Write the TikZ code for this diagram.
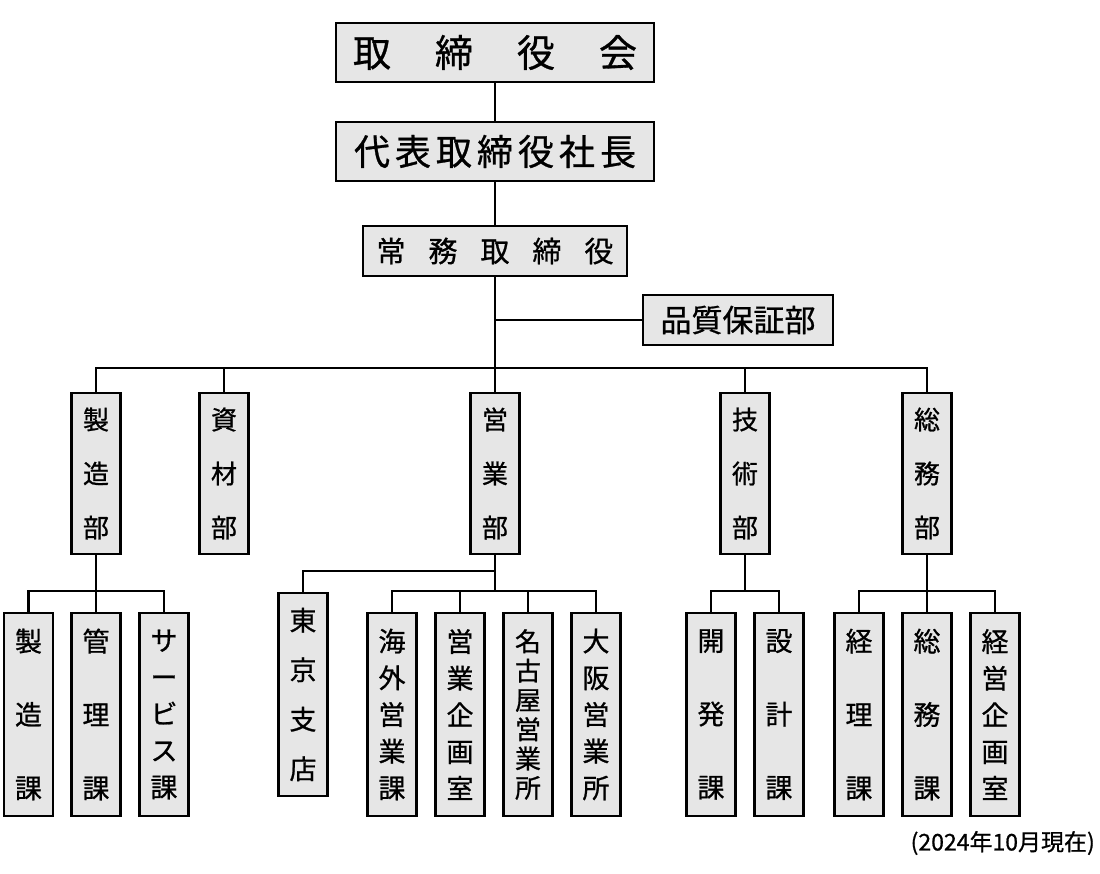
\documentclass[tikz,border=0pt]{standalone}
\usepackage{fontspec}
\setmainfont{Noto Sans CJK JP}[FakeBold=0.8]
\definecolor{boxgray}{RGB}{230,230,230}
\begin{document}
\begin{tikzpicture}[x=1pt,y=-1pt,
  bigbox/.style={draw=black, line width=2.4pt, fill=boxgray, inner sep=0pt},
  dept/.style={bigbox, minimum width=49pt, minimum height=161pt, align=center, font=\fontsize{26}{54}\selectfont},
  sub/.style={bigbox, minimum width=49pt, minimum height=203pt, align=center},
  three/.style={font=\fontsize{27}{73.4}\selectfont},
  five/.style={font=\fontsize{27}{36.7}\selectfont},
  six/.style={font=\fontsize{26}{29.3}\selectfont},
  four/.style={font=\fontsize{27}{49.5}\selectfont},
  conn/.style={draw=black, line width=2.4pt, line join=miter}]
\useasboundingbox (0,0) rectangle (1100,873);
% top
\node[bigbox, minimum width=318pt, minimum height=59pt, font=\fontsize{38}{38}\selectfont] (board) at (495,52.5) {取\hspace{44pt}締\hspace{44pt}役\hspace{44pt}会};
\node[bigbox, minimum width=318pt, minimum height=59pt, font=\fontsize{36}{36}\selectfont] (pres) at (495,151.5) {代\hspace{5pt}表\hspace{5pt}取\hspace{5pt}締\hspace{5pt}役\hspace{5pt}社\hspace{5pt}長};
\node[bigbox, minimum width=264pt, minimum height=50pt, font=\fontsize{29}{29}\selectfont] (jomu) at (495,251) {常\hspace{23pt}務\hspace{23pt}取\hspace{23pt}締\hspace{23pt}役};
\node[bigbox, minimum width=190pt, minimum height=50pt, font=\fontsize{31}{31}\selectfont] (qa) at (738,320) {品質保証部};
% departments
\node[dept] (seizo) at (96,473.5) {製\\造\\部};
\node[dept] (shizai) at (224,473.5) {資\\材\\部};
\node[dept] (eigyo) at (495,473.5) {営\\業\\部};
\node[dept] (gijutsu) at (745,473.5) {技\\術\\部};
\node[dept] (somu) at (927,473.5) {総\\務\\部};
% sections
\node[sub, three] (s1) at (28.5,714.5) {製\\造\\課};
\node[sub, three] (s2) at (96,714.5) {管\\理\\課};
\node[sub, five] (s3) at (164,714.5) {サ\\ー\\ビ\\ス\\課};
\node[sub, four] (tokyo) at (303,694.5) {東\\京\\支\\店};
\node[sub, five] (e1) at (392,714.5) {海\\外\\営\\業\\課};
\node[sub, five] (e2) at (460,714.5) {営\\業\\企\\画\\室};
\node[sub, six] (e3) at (528,714.5) {名\\古\\屋\\営\\業\\所};
\node[sub, five] (e4) at (596,714.5) {大\\阪\\営\\業\\所};
\node[sub, three] (g1) at (711,714.5) {開\\発\\課};
\node[sub, three] (g2) at (779,714.5) {設\\計\\課};
\node[sub, three] (m1) at (859,714.5) {経\\理\\課};
\node[sub, three] (m2) at (927,714.5) {総\\務\\課};
\node[sub, five] (m3) at (995,714.5) {経\\営\\企\\画\\室};
\node[anchor=east, inner sep=0pt, font=\fontsize{23}{23}\selectfont] (date) at (1095,843) {(2024年10月現在)};
% connectors
\draw[conn] (board) -- (pres);
\draw[conn] (pres) -- (jomu);
\draw[conn] (jomu.south |- qa.west) -- (qa.west);
\foreach \d in {seizo,shizai,eigyo,gijutsu,somu}
  \draw[conn] (jomu.south) -- ++(0,91) -| (\d.north);
\foreach \c in {s1,s2,s3}
  \draw[conn] (seizo.south) -- ++(0,36) -| (\c.north);
\draw[conn] (eigyo.south) -- ++(0,16) -| (tokyo.north);
\foreach \c in {e1,e2,e3,e4}
  \draw[conn] (eigyo.south) -- ++(0,36) -| (\c.north);
\foreach \c in {g1,g2}
  \draw[conn] (gijutsu.south) -- ++(0,36) -| (\c.north);
\foreach \c in {m1,m2,m3}
  \draw[conn] (somu.south) -- ++(0,36) -| (\c.north);
\end{tikzpicture}
\end{document}
